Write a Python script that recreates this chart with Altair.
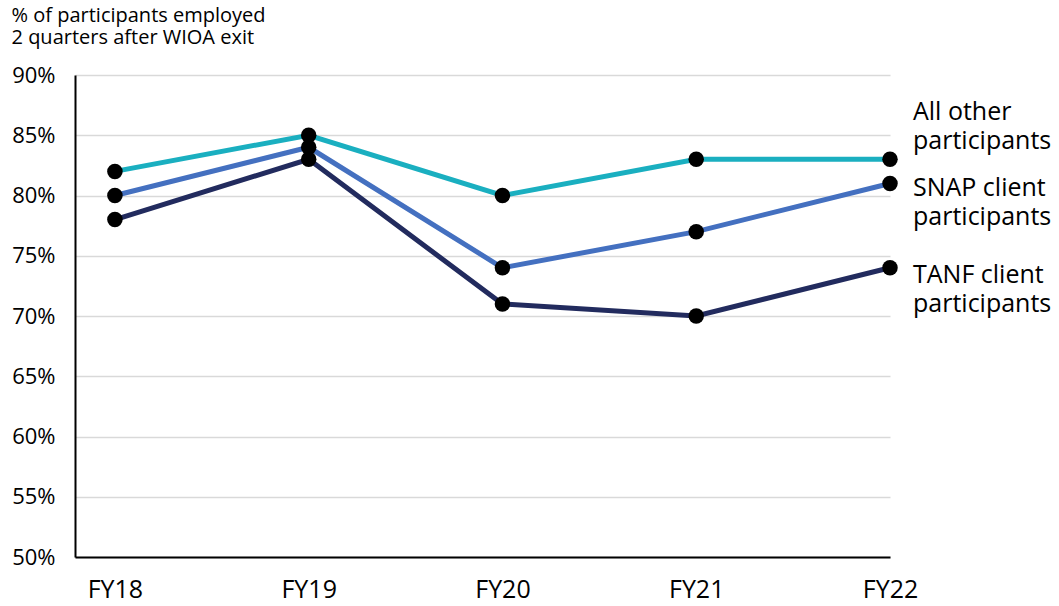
import altair as alt
import pandas as pd

years = ["FY18", "FY19", "FY20", "FY21", "FY22"]
series_names = ["All other participants", "SNAP client participants", "TANF client participants"]
all_other = [82, 85, 80, 83, 83]
snap = [80, 84, 74, 77, 81]
tanf = [78, 83, 71, 70, 74]
colors = ["#1AAFC0", "#4470C0", "#222B5E"]

label_lines = [["All other", "participants"], ["SNAP client", "participants"], ["TANF client", "participants"]]
label_anchor = [86.9, 80.6, 73.4]

rows = []
for name, vals in zip(series_names, [all_other, snap, tanf]):
    for i, (yr, v) in enumerate(zip(years, vals)):
        rows.append({"idx": i, "year": yr, "series": name, "value": v})
df = pd.DataFrame(rows)

lab = pd.DataFrame({"idx": [len(years) - 1] * 3, "series": series_names,
                    "value": label_anchor, "text": label_lines})

FONT = "Open Sans"
year_expr = "[" + ",".join("'%s'" % y for y in years) + "][datum.value]"

x = alt.X("idx:Q",
          scale=alt.Scale(domain=[-0.206, 4.0], nice=False, zero=False),
          axis=alt.Axis(title=None, values=list(range(len(years))), labelExpr=year_expr,
                        labelFontSize=25, labelColor="#000", labelPadding=20, labelFlush=False,
                        labelOverlap=False, labelBound=False,
                        ticks=False, domainColor="#000", domainWidth=2, labelAngle=0, grid=False))
y = alt.Y("value:Q", scale=alt.Scale(domain=[50, 90], nice=False, zero=False),
          axis=alt.Axis(values=list(range(50, 91, 5)), labelExpr="datum.value + '%'",
                        labelFontSize=22, labelColor="#000", labelPadding=20, ticks=False,
                        domainColor="#000", domainWidth=2, gridColor="#d9d9d9", gridWidth=1.5,
                        title=["% of participants employed", "2 quarters after WIOA exit"],
                        titleAngle=0, titleAlign="left", titleBaseline="top",
                        titleX=-64, titleY=-70, titleFontSize=20, titleFontWeight="normal",
                        titleColor="#000", titleLineHeight=22))

color = alt.Color("series:N", scale=alt.Scale(domain=series_names, range=colors), legend=None)

lines = alt.Chart(df).mark_line(strokeWidth=5).encode(x=x, y=y, color=color)
points = alt.Chart(df).mark_circle(size=240, color="#000", opacity=1).encode(x=x, y=y)
labels = alt.Chart(lab).mark_text(align="left", baseline="middle", dx=23, fontSize=25,
                                  lineBreak="\n", lineHeight=29, color="#000", font=FONT).encode(
    x=x, y=y, text="text")

chart = alt.layer(lines, points, labels).properties(
    width=815, height=482,
    autosize=alt.AutoSizeParams(type="none"),
    padding={"left": 75, "top": 75, "right": 169, "bottom": 49},
).configure(font=FONT).configure_view(stroke=None).configure_axis(labelFont=FONT, titleFont=FONT)

chart.save("out.html", embed_options={"renderer": "svg", "actions": False})
